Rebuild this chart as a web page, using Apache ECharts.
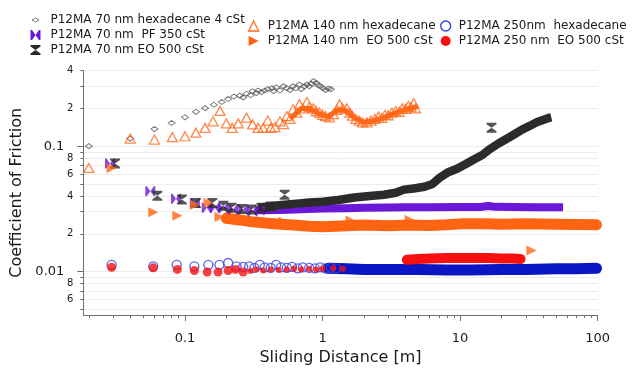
<!DOCTYPE html>
<html>
<head>
<meta charset="utf-8">
<script src="https://cdn.jsdelivr.net/npm/echarts@6/dist/echarts.min.js"></script>
<style>
  html, body { margin: 0; padding: 0; background: #fff; }
  #chart { width: 632px; height: 368px; }
</style>
</head>
<body>
<div id="chart"></div>
<script>
// ---- axis ranges and ticks ----
const xMin = 0.01824, xMax = 100;
const yMin = 0.0045, yMax = 0.4;
const xMajorTicks = [0.1, 1, 10, 100];
const xAllTicks = [0.02, 0.03, 0.04, 0.05, 0.06, 0.07, 0.08, 0.09, 0.1,
  0.2, 0.3, 0.4, 0.5, 0.6, 0.7, 0.8, 0.9, 1,
  2, 3, 4, 5, 6, 7, 8, 9, 10,
  20, 30, 40, 50, 60, 70, 80, 90, 100];
const yMajorTicks = [0.01, 0.1];
const yAllTicks = [0.005, 0.006, 0.007, 0.008, 0.009, 0.01,
  0.02, 0.03, 0.04, 0.05, 0.06, 0.07, 0.08, 0.09, 0.1,
  0.2, 0.3, 0.4];
const yLabelTicks = [0.006, 0.008, 0.01, 0.02, 0.04, 0.06, 0.08, 0.1, 0.2, 0.4];

// ---- series names ----
const names = [
  'P12MA 70 nm hexadecane 4 cSt',
  'P12MA 70 nm  PF 350 cSt',
  'P12MA 70 nm EO 500 cSt',
  'P12MA 140 nm hexadecane',
  'P12MA 140 nm  EO 500 cSt',
  'P12MA 250nm  hexadecane',
  'P12MA 250 nm  EO 500 cSt'
];

// ---- measurements: [sliding distance (m), coefficient of friction] ----
const hex70 = [[0.02,0.1],[0.04,0.115],[0.06,0.137],[0.08,0.153],[0.1,0.17],[0.12,0.188],[0.14,0.201],
  [0.162,0.214],[0.185,0.225],[0.206,0.238],[0.227,0.249],[0.25,0.253],[0.265,0.245],[0.28,0.262],
  [0.3,0.255],[0.31,0.274],[0.33,0.265],[0.34,0.278],[0.36,0.27],[0.38,0.278],[0.4,0.285],[0.43,0.29],
  [0.44,0.275],[0.46,0.295],[0.49,0.278],[0.52,0.3],[0.55,0.29],[0.58,0.28],[0.61,0.3],[0.64,0.29],
  [0.68,0.31],[0.7,0.285],[0.74,0.3],[0.77,0.31],[0.8,0.3],[0.83,0.315],[0.86,0.33],[0.9,0.32],
  [0.93,0.306],[0.97,0.3],[1.01,0.29],[1.05,0.28],[1.1,0.288],[1.15,0.285]];

const pf70Sparse = [[0.0285,0.0727],[0.056,0.0437],[0.086,0.038],[0.118,0.0352],[0.144,0.0322],
  [0.165,0.0322],[0.19,0.032],[0.224,0.0312],[0.265,0.0312],[0.31,0.0302],[0.35,0.031]];
const pf70Band = [[0.33,0.0308],[0.5,0.031],[0.7,0.0314],[1,0.0318],[1.5,0.032],[2,0.0322],[3,0.0324],
  [4,0.0325],[6,0.0326],[10,0.0327],[14,0.0327],[16,0.0333],[18,0.0328],[25,0.0327],[35,0.0326],[56,0.0325]];

const eo70Sparse = [[0.031,0.0727],[0.063,0.0403],[0.095,0.0375],[0.12,0.0352],[0.158,0.0352],
  [0.19,0.0335],[0.218,0.0322],[0.258,0.0316],[0.305,0.0312],[0.36,0.0322],[0.42,0.033],[0.53,0.041],[16.9,0.14]];
const eo70Band = [[0.34,0.0322],[0.42,0.0332],[0.5,0.034],[0.65,0.0348],[0.8,0.0355],[1.0,0.036],
  [1.3,0.0372],[1.7,0.039],[2.2,0.04],[2.8,0.041],[3.4,0.0425],[3.9,0.045],[4.6,0.046],[5.5,0.0475],
  [6.3,0.05],[7.1,0.056],[8.2,0.062],[9.5,0.066],[11,0.072],[12.5,0.078],[14.5,0.085],[16.5,0.095],
  [19,0.105],[22,0.115],[25,0.125],[28,0.135],[32,0.145],[36,0.155],[40,0.162],[44,0.168],[46,0.17]];

const hex140 = [[0.02,0.067],[0.04,0.115],[0.06,0.113],[0.081,0.118],[0.1,0.12],[0.12,0.128],[0.14,0.14],
  [0.16,0.158],[0.18,0.191],[0.2,0.152],[0.22,0.14],[0.244,0.152],[0.28,0.169],[0.31,0.149],[0.34,0.14],
  [0.37,0.14],[0.4,0.16],[0.42,0.14],[0.45,0.142],[0.49,0.158],[0.52,0.15],[0.55,0.174],[0.58,0.165],
  [0.61,0.197],[0.65,0.185],[0.68,0.216],[0.72,0.2],[0.77,0.225],[0.8,0.205],[0.86,0.2],[0.9,0.19],
  [0.95,0.185],[1.0,0.178],[1.05,0.174],[1.12,0.17],[1.2,0.18],[1.27,0.195],[1.33,0.215],[1.4,0.2],
  [1.5,0.2],[1.58,0.185],[1.65,0.175],[1.75,0.165],[1.85,0.16],[1.95,0.155],[2.1,0.155],[2.25,0.16],
  [2.4,0.165],[2.55,0.172],[2.7,0.168],[2.85,0.178],[3.0,0.176],[3.2,0.185],[3.4,0.19],[3.6,0.188],
  [3.8,0.2],[4.0,0.198],[4.2,0.21],[4.4,0.205],[4.6,0.22],[4.75,0.2]];
const hex140Band = [[0.6,0.17],[0.7,0.2],[0.8,0.2],[0.95,0.18],[1.1,0.172],[1.3,0.195],[1.45,0.195],
  [1.7,0.168],[2.0,0.155],[2.4,0.16],[2.8,0.17],[3.3,0.182],[3.8,0.192],[4.3,0.2],[4.75,0.205]];

const eo140Sparse = [[0.0293,0.067],[0.0588,0.0297],[0.088,0.0279],[0.118,0.034],[0.148,0.0352],
  [0.178,0.0272],[0.21,0.027],[0.25,0.0262],[0.3,0.0255],[0.52,0.025],[1.6,0.0255],[4.3,0.0258],[33,0.0147]];
const eo140Band = [[0.2,0.0266],[0.25,0.0258],[0.3,0.025],[0.4,0.0243],[0.5,0.0238],[0.65,0.0234],
  [0.8,0.023],[1,0.0228],[1.5,0.0232],[2,0.0235],[3,0.0232],[4.3,0.0235],[6,0.0233],[8,0.0236],
  [10,0.024],[15,0.024],[20,0.0238],[30,0.024],[50,0.0238],[70,0.0237],[98,0.0236]];

const hex250Sparse = [[0.0293,0.0113],[0.0588,0.011],[0.087,0.0113],[0.117,0.011],[0.148,0.0113],
  [0.178,0.0113],[0.206,0.0117],[0.237,0.011],[0.265,0.0109],[0.293,0.011],[0.32,0.0107],[0.35,0.0113],
  [0.38,0.0108],[0.42,0.0107],[0.46,0.0113],[0.5,0.0108],[0.55,0.0107],[0.6,0.0109],[0.66,0.0106],
  [0.72,0.0108],[0.8,0.0107],[0.88,0.0106],[0.96,0.0108],[1.05,0.0106],[1.15,0.0107],[1.25,0.0106]];
const hex250Band = [[1.1,0.0106],[1.5,0.0105],[2,0.0104],[3,0.0104],[5,0.0104],[8,0.0103],[12,0.0103],
  [20,0.0104],[30,0.0104],[50,0.0105],[70,0.0105],[98,0.0106]];

const eo250Sparse = [[0.0293,0.0108],[0.0588,0.0107],[0.088,0.0104],[0.117,0.0102],[0.145,0.0099],
  [0.174,0.0099],[0.206,0.0102],[0.233,0.0104],[0.265,0.0099]];
const eo250Dots = [[0.3,0.0101],[0.33,0.0104],[0.37,0.0102],[0.42,0.0104],[0.48,0.0103],[0.55,0.0104],
  [0.62,0.0105],[0.7,0.0104],[0.8,0.0105],[0.9,0.0104],[1.0,0.0105],[1.2,0.0106],[1.4,0.0105]];
const eo250Band = [[4.1,0.0124],[5,0.0126],[6,0.0127],[8,0.0128],[10,0.0128],[13,0.0128],[16,0.0128],
  [20,0.0127],[24,0.0127],[27.5,0.0126]];

// ---- marker shapes ----
const bowtie = 'path://M0,0H1.5L5,5L8.5,0H10V10H8.5L5,5L1.5,10H0Z';
const hourglass = 'path://M0,0H10V1.5L5,5L10,8.5V10H0V8.5L5,5L0,1.5Z';
const rightTri = 'path://M0,0L10,5L0,10Z';
const smallDiamond = 'path://M0,0M10,10M1.5,5L5,3L8.5,5L5,7Z';

const C = {
  gray: '#5a5a5a', orange: '#ff6a1f', orangeBand: '#ff6412', purple: '#6b17d8',
  black: '#2b2b2b', blueRing: '#3444e4', blueBand: '#0a16c4', red: '#f81010', text: '#1a1a1a', axis: '#6e6e6e'
};

function num(v) { return Number(v.toPrecision(6)); }
function fmtX(v) { return String(num(v)); }
function fmtY(v) {
  v = num(v);
  if (yMajorTicks.some(t => Math.abs(t - v) < t * 1e-6)) return '{maj|' + String(v) + '}';
  const p = Math.pow(10, Math.floor(Math.log10(v) + 1e-9));
  return '{min|' + Math.round(v / p) + '}';
}

function scatter(name, data, symbol, size, style, extra) {
  return Object.assign({ type: 'scatter', name, data, symbol, symbolSize: size, itemStyle: style, z: 2 }, extra || {});
}
function band(name, data, color, width, cap, extra) {
  return Object.assign({
    type: 'line', name, data, showSymbol: false, symbol: 'none',
    lineStyle: { color, width, cap: cap || 'butt', join: 'round' }, itemStyle: { color }, z: 2
  }, extra || {});
}

const series = [
  scatter(names[0], hex70, 'diamond', [7, 5], { color: 'rgba(0,0,0,0)', borderColor: C.gray, borderWidth: 1 }),
  band(names[1], pf70Band, C.purple, 8),
  scatter(names[1], pf70Sparse, bowtie, 10, { color: C.purple }),
  band(names[2], eo70Band, C.black, 8.5, 'butt'),
  scatter(names[2], eo70Sparse, hourglass, 10, { color: C.black }),
  band(names[3], hex140Band, C.orangeBand, 5, 'round'),
  scatter(names[3], hex140, 'triangle', [10, 9], { color: 'rgba(0,0,0,0)', borderColor: C.orange, borderWidth: 1.3 }),
  band(names[4], eo140Band, C.orangeBand, 11, 'round'),
  scatter(names[4], eo140Sparse, rightTri, 10, { color: C.orangeBand }),
  band(names[5], hex250Band, C.blueBand, 11, 'round'),
  scatter(names[5], hex250Sparse, 'circle', 9, { color: 'rgba(0,0,0,0)', borderColor: C.blueRing, borderWidth: 1.4 }),
  band(names[6], eo250Band, C.red, 10, 'round'),
  scatter(names[6], eo250Sparse, 'circle', 9, { color: C.red }),
  scatter(names[6], eo250Dots, 'circle', 6, { color: C.red })
];

function legendBlock(items, left, top) {
  return {
    left, top, orient: 'vertical', itemWidth: 10, itemHeight: 10, itemGap: 3,
    selectedMode: false,
    textStyle: { fontFamily: 'DejaVu Sans', fontSize: 12, color: C.text },
    data: items
  };
}
function pad(n) { return { padding: [0, 0, 0, n] }; }

const option = {
  animation: false,
  backgroundColor: '#fff',
  textStyle: { fontFamily: 'DejaVu Sans' },
  grid: { left: 83.3, right: 34.3, top: 70.7, bottom: 53, containLabel: false, outerBoundsMode: 'none' },
  legend: [
    legendBlock([
      { name: names[0], icon: smallDiamond, itemStyle: { color: 'rgba(0,0,0,0)', borderColor: C.gray, borderWidth: 1 }, textStyle: pad(5) },
      { name: names[1], icon: bowtie, itemStyle: { color: C.purple, borderWidth: 0 }, textStyle: pad(5) },
      { name: names[2], icon: hourglass, itemStyle: { color: C.black, borderWidth: 0 }, textStyle: pad(5) }
    ], 25, 9),
    legendBlock([
      { name: names[3], icon: 'triangle', itemStyle: { color: 'rgba(0,0,0,0)', borderColor: C.orange, borderWidth: 1.3 }, textStyle: pad(4) },
      { name: names[4], icon: rightTri, itemStyle: { color: C.orangeBand, borderWidth: 0 }, textStyle: pad(4) }
    ], 243, 15),
    legendBlock([
      { name: names[5], icon: 'circle', itemStyle: { color: 'rgba(0,0,0,0)', borderColor: C.blueRing, borderWidth: 1.4 }, textStyle: pad(3) },
      { name: names[6], icon: 'circle', itemStyle: { color: C.red, borderWidth: 0 }, textStyle: pad(3) }
    ], 435, 15)
  ],
  xAxis: [
    {
      type: 'log', logBase: 10, min: xMin, max: xMax, position: 'bottom',
      name: 'Sliding Distance [m]', nameLocation: 'middle', nameGap: 35,
      nameTextStyle: { fontSize: 16, color: C.text },
      axisLine: { show: true, onZero: false, lineStyle: { color: C.axis } },
      axisTick: { show: true, length: 3, customValues: xAllTicks, lineStyle: { color: C.axis } },
      axisLabel: { customValues: xMajorTicks, formatter: fmtX, fontSize: 13, color: C.text, margin: 17 },
      splitLine: { show: false }
    },
    {
      type: 'log', logBase: 10, min: xMin, max: xMax, position: 'bottom',
      axisLine: { show: false },
      axisTick: { show: true, length: 6, customValues: xMajorTicks, lineStyle: { color: C.axis } },
      axisLabel: { show: false }, splitLine: { show: false }
    }
  ],
  yAxis: [
    {
      type: 'log', logBase: 10, min: yMin, max: yMax, position: 'left',
      name: 'Coefficient of Friction', nameLocation: 'middle', nameGap: 58,
      nameTextStyle: { fontSize: 16, color: C.text },
      axisLine: { show: true, onZero: false, lineStyle: { color: C.axis } },
      axisTick: { show: true, length: 3, customValues: yAllTicks, lineStyle: { color: C.axis } },
      axisLabel: {
        customValues: yLabelTicks, formatter: fmtY, margin: 10,
        rich: {
          maj: { fontSize: 13, color: C.text, padding: [0, 9, 0, 0] },
          min: { fontSize: 10, color: C.text }
        }
      },
      splitLine: { show: true, lineStyle: { color: '#ececec', width: 1 } }
    },
    {
      type: 'log', logBase: 10, min: yMin, max: yMax, position: 'left',
      axisLine: { show: false },
      axisTick: { show: true, length: 6, customValues: yMajorTicks, lineStyle: { color: C.axis } },
      axisLabel: { show: false }, splitLine: { show: false }
    }
  ],
  series
};

const chart = echarts.init(document.getElementById('chart'), null, { renderer: 'canvas' });
chart.setOption(option);
</script>
</body>
</html>
